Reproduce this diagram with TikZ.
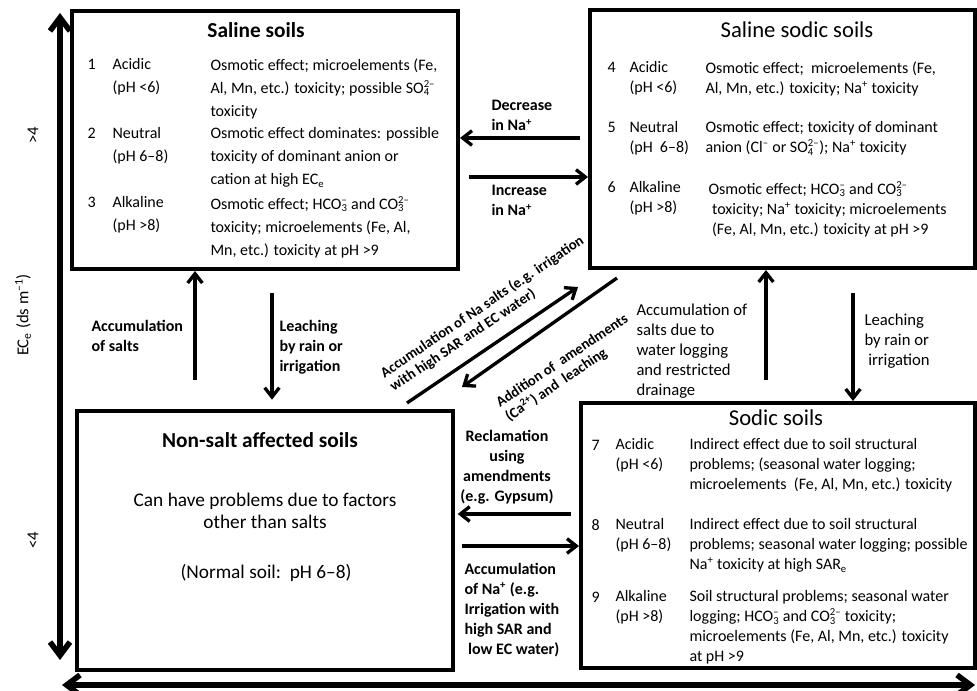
\documentclass[tikz,border=0pt]{standalone}
\usepackage{fontspec}
\setmainfont{Carlito}
\usetikzlibrary{arrows.meta,fit}

\newcommand{\chemion}[3]{#1\rlap{\textsubscript{#2}}\textsuperscript{#3}}

\tikzset{every picture/.style={line width=0.75pt}}
\tikzset{
  soilbox/.style={draw, line width=3pt, inner sep=0pt},
  flow/.style={line width=2.5pt, -{Straight Barb[length=7pt,width=11pt]}},
  ecaxis/.style={line width=4.2pt, {Straight Barb[length=10pt,width=15pt]}-{Straight Barb[length=10pt,width=15pt]}},
  boxtitle/.style={font=\fontsize{17}{20}\selectfont, inner sep=0.75pt},
  rownum/.style={font=\fontsize{12}{15}\selectfont, anchor=base west, inner sep=0.75pt},
  bodysal/.style={font=\fontsize{12}{17.25}\selectfont, align=left, anchor=north west, inner sep=0.75pt},
  body/.style={font=\fontsize{12}{15}\selectfont, align=left, anchor=north west, inner sep=0.75pt},
  flowlabel/.style={font=\fontsize{12}{15}\selectfont\bfseries, align=left, anchor=north west, inner sep=0.75pt},
  plainlabel/.style={font=\fontsize{12.5}{15}\selectfont, align=left, anchor=north west, inner sep=0.75pt},
  diaglabel/.style={font=\fontsize{11}{12.5}\selectfont\bfseries, align=left, rotate=34, inner sep=0.75pt},
  axislabel/.style={font=\fontsize{12.5}{15}\selectfont, rotate=90, inner sep=0.75pt}
}

\begin{document}
\begin{tikzpicture}[x=0.75pt,y=0.75pt,yscale=-1,xscale=1]
\useasboundingbox (0,0) rectangle (977,691);

%Shape: Rectangle
\node [soilbox, fit={(72,11) (458,269)}] (saline) {};
%Shape: Rectangle
\node [soilbox, fit={(590,10) (975,268)}] (salsod) {};
%Shape: Rectangle
\node [soilbox, fit={(77,411) (453,670)}] (nonsalt) {};
%Shape: Rectangle
\node [soilbox, fit={(581,403) (975,668)}] (sodic) {};

%Straight Lines
\coordinate (ectop) at (60,13);
\coordinate (ecbot) at (60,660);
\draw [ecaxis] (ecbot) -- (ectop);
%Straight Lines
\coordinate (phleft) at (62,685);
\coordinate (phright) at (975,685);
\draw [ecaxis] (phleft) -- (phright);

% Text Node
\node [axislabel] (ecunit) at (23,315) {EC\textsubscript{e} (ds m\textsuperscript{–1})};
% Text Node
\node [axislabel] (echigh) at (33,135) {>4};
% Text Node
\node [axislabel] (eclow) at (33,540) {<4};

% Saline soils
\node [boxtitle, font=\fontsize{16}{19}\selectfont\bfseries] (salinet) at (256,30) {Saline soils};
\node [rownum] (sa1n) at (86,70) {1};
\node [bodysal] (sa1t) at (111,57) {Acidic\\(pH <6)};
\node [bodysal] (sa1d) at (209,57) {Osmotic effect; microelements (Fe,\\Al, Mn, etc.) toxicity; possible \chemion{SO}{4}{2–}\\toxicity};
\node [rownum] (sa2n) at (86,139) {2};
\node [bodysal] (sa2t) at (111,126) {Neutral\\(pH 6–8)};
\node [bodysal] (sa2d) at (209,126) {Osmotic effect dominates: possible\\toxicity of dominant anion or\\cation at high EC\textsubscript{e}};
\node [rownum] (sa3n) at (86,208) {3};
\node [bodysal] (sa3t) at (111,195) {Alkaline\\(pH >8)};
\node [bodysal] (sa3d) at (209,195) {Osmotic effect; \chemion{HCO}{3}{–} and \chemion{CO}{3}{2–}\\toxicity; microelements (Fe, Al,\\Mn, etc.) toxicity at pH >9};

% Saline sodic soils
\node [boxtitle] (salsodt) at (797,30) {Saline sodic soils};
\node [rownum] (ss4n) at (606,73) {4};
\node [body] (ss4t) at (628,60) {Acidic\\(pH <6)};
\node [body] (ss4d) at (704,60) {Osmotic effect;\ \ microelements (Fe,\\Al, Mn, etc.) toxicity; Na\textsuperscript{+} toxicity};
\node [rownum] (ss5n) at (606,133) {5};
\node [body] (ss5t) at (628,120) {Neutral\\(pH\ \ 6–8)};
\node [body] (ss5d) at (704,120) {Osmotic effect; toxicity of dominant\\anion (Cl\textsuperscript{–} or \chemion{SO}{4}{2–}); Na\textsuperscript{+} toxicity};
\node [rownum] (ss6n) at (606,193) {6};
\node [body] (ss6t) at (628,180) {Alkaline\\(pH >8)};
\node [body] (ss6d) at (707,180) {Osmotic effect; \chemion{HCO}{3}{–} and \chemion{CO}{3}{2–}\\\ toxicity; Na\textsuperscript{+} toxicity; microelements\\\ (Fe, Al, Mn, etc.) toxicity at pH >9};

% Non-salt affected soils
\node [boxtitle, font=\fontsize{16}{19}\selectfont\bfseries] (nonsaltt) at (260,440) {Non-salt affected soils};
\node [font=\fontsize{14.5}{16}\selectfont, align=center, anchor=north, inner sep=0.75pt] (nonsaltd) at (265,492) {Can have problems due to factors\\other than salts};
\node [font=\fontsize{14.5}{16}\selectfont, anchor=base, inner sep=0.75pt] (nonsaltn) at (266,578) {(Normal soil:\ \ pH 6–8)};

% Sodic soils
\node [boxtitle] (sodict) at (776,418) {Sodic soils};
\node [rownum] (so7n) at (590,450) {7};
\node [body] (so7t) at (614,437) {Acidic\\(pH <6)};
\node [body] (so7d) at (688,437) {Indirect effect due to soil structural\\problems; (seasonal water logging;\\microelements\ \ (Fe, Al, Mn, etc.) toxicity};
\node [rownum] (so8n) at (590,530) {8};
\node [body] (so8t) at (614,517) {Neutral\\(pH 6–8)};
\node [body] (so8d) at (688,517) {Indirect effect due to soil structural\\problems; seasonal water logging; possible\\Na\textsuperscript{+} toxicity at high SAR\textsubscript{e}};
\node [rownum] (so9n) at (590,602) {9};
\node [body] (so9t) at (614,589) {Alkaline\\(pH >8)};
\node [body] (so9d) at (688,589) {Soil structural problems; seasonal water\\logging; \chemion{HCO}{3}{–} and \chemion{CO}{3}{2–} toxicity;\\microelements (Fe, Al, Mn, etc.) toxicity\\at pH >9};

%Straight Lines
\coordinate (decrow) at (0,138);
\draw [flow, shorten <=6pt] (decrow -| salsod.west) -- (decrow -| saline.east);
\node [flowlabel] (decl) at (490,99) {Decrease\\in Na\textsuperscript{+}};
%Straight Lines
\coordinate (incrow) at (0,177);
\draw [flow, shorten <=7pt] (incrow -| saline.east) -- (incrow -| salsod.west);
\node [flowlabel] (incl) at (490,184) {Increase\\in Na\textsuperscript{+}};

%Straight Lines
\coordinate (accLfoot) at (195,380);
\draw [flow] (accLfoot) -- (accLfoot |- saline.south);
\node [flowlabel] (accLl) at (90,319) {Accumulation\\of salts};
%Straight Lines
\coordinate (leachLtop) at (272,293);
\draw [flow, shorten >=7pt] (leachLtop) -- (leachLtop |- nonsalt.north);
\node [flowlabel] (leachLl) at (278,319) {Leaching\\by rain or\\irrigation};

%Straight Lines
\coordinate (accRfoot) at (766,380);
\draw [flow] (accRfoot) -- (accRfoot |- salsod.south);
\node [plainlabel] (accRl) at (635,302) {Accumulation of\\salts due to\\water logging\\and restricted\\drainage};
%Straight Lines
\coordinate (leachRtop) at (853,293);
\draw [flow] (leachRtop) -- (leachRtop |- sodic.north);
\node [plainlabel] (leachRl) at (863,312) {Leaching\\by rain or\\\ irrigation};

%Straight Lines
\coordinate (reclrow) at (0,514);
\draw [flow, shorten <=6pt, shorten >=2pt] (reclrow -| sodic.west) -- (reclrow -| nonsalt.east);
\node [flowlabel, align=center, anchor=north] (recll) at (507,429) {Reclamation\\using\\amendments\\(e.g. Gypsum)};
%Straight Lines
\coordinate (accNarow) at (0,546);
\draw [flow, shorten <=5pt] (accNarow -| nonsalt.east) -- (accNarow -| sodic.west);
\node [flowlabel] (accNal) at (463,562) {Accumulation\\of Na\textsuperscript{+} (e.g.\\Irrigation with\\high SAR and\\\ low EC water)};

%Straight Lines
\coordinate (diagAfoot) at (407,403);
\coordinate (diagAhead) at (578,287);
\draw [flow] (diagAfoot) -- (diagAhead);
\node [diaglabel] (diagAl) at (487,314) {Accumulation of Na salts (e.g. irrigation\\with high SAR and EC water)};
%Straight Lines
\coordinate (diagBfoot) at (617,278);
\coordinate (diagBhead) at (462,387);
\draw [flow] (diagBfoot) -- (diagBhead);
\node [diaglabel] (diagBl) at (567,368) {Addition of\ \ amendments\\(Ca\textsuperscript{2+}) and\ \ leaching};

\end{tikzpicture}
\end{document}
